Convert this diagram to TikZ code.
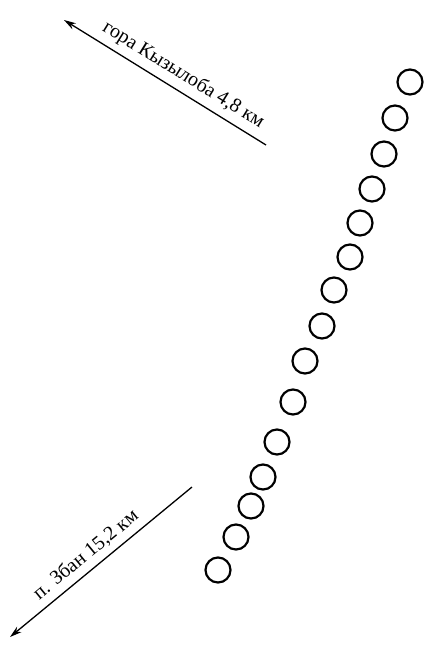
\documentclass[tikz,border=0pt]{standalone}
\usepackage{fontspec}
\setmainfont{Liberation Serif}
\usetikzlibrary{arrows.meta}
\begin{document}
\begin{tikzpicture}[x=1pt,y=-1pt,
  ring/.style={draw=black,circle,line width=2.2pt,minimum size=25pt,inner sep=0pt},
  road/.style={line width=1.3pt,-{Stealth[length=12pt,width=7pt]}},
  lbl/.style={font=\fontsize{20}{22}\selectfont,sloped,above=5pt,inner sep=1pt}]
\useasboundingbox (0,0) rectangle (430,650);
\foreach \x/\y [count=\i] in {410/82,395/118,384/154,372/189,360/223,350/257,334/290,322/326,305/361,293/402,277/442,263/477,251/506,236/537,218/570}
  \node[ring] (c\i) at (\x,\y) {};
\coordinate (a1) at (266,145);
\coordinate (b1) at (64,20);
\coordinate (a2) at (192,487);
\coordinate (b2) at (10,637);
\draw[road] (a1) -- (b1) node[lbl,pos=0.45] {гора Кызылоба 4,8 км};
\draw[road] (a2) -- (b2) node[lbl,pos=0.53] {п. Збан 15,2 км};
\end{tikzpicture}
\end{document}
